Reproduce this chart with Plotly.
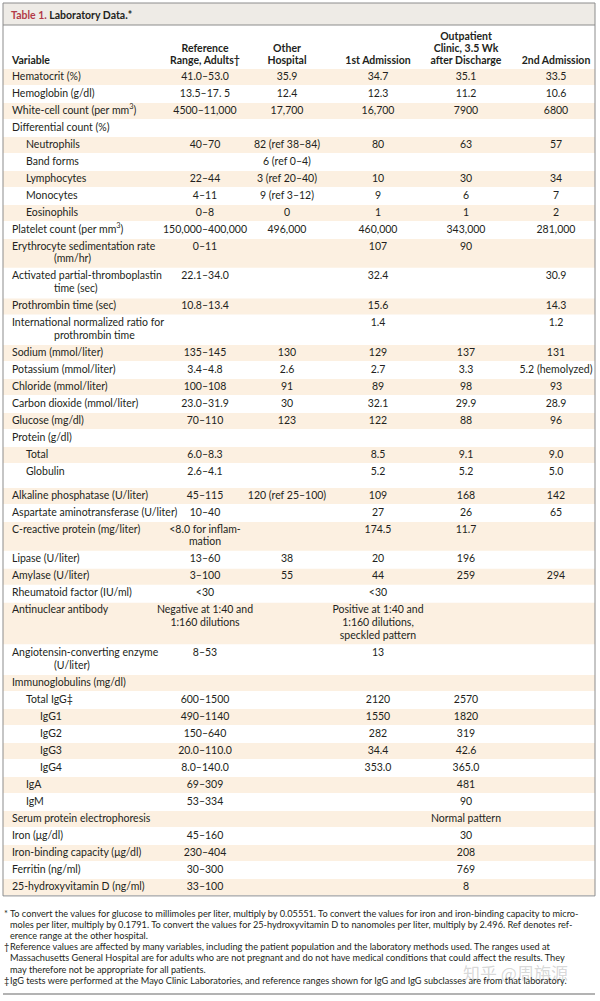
import plotly.graph_objects as go

# ---------------- data ----------------
variables = [
    "Hematocrit (%)", "Hemoglobin (g/dl)", "White-cell count (per mm<sup>3</sup>)",
    "Differential count (%)", "Neutrophils", "Band forms", "Lymphocytes", "Monocytes",
    "Eosinophils", "Platelet count (per mm<sup>3</sup>)",
    "Erythrocyte sedimentation rate\n(mm/hr)", "Activated partial-thromboplastin\ntime (sec)",
    "Prothrombin time (sec)", "International normalized ratio for\nprothrombin time",
    "Sodium (mmol/liter)", "Potassium (mmol/liter)", "Chloride (mmol/liter)",
    "Carbon dioxide (mmol/liter)", "Glucose (mg/dl)", "Protein (g/dl)", "Total", "Globulin",
    "Alkaline phosphatase (U/liter)", "Aspartate aminotransferase (U/liter)",
    "C-reactive protein (mg/liter)", "Lipase (U/liter)", "Amylase (U/liter)",
    "Rheumatoid factor (IU/ml)", "Antinuclear antibody",
    "Angiotensin-converting enzyme\n(U/liter)", "Immunoglobulins (mg/dl)", "Total IgG‡",
    "IgG1", "IgG2", "IgG3", "IgG4", "IgA", "IgM", "Serum protein electrophoresis",
    "Iron (μg/dl)", "Iron-binding capacity (μg/dl)", "Ferritin (ng/ml)",
    "25-hydroxyvitamin D (ng/ml)",
]
indent_level = [0, 0, 0, 0, 1, 1, 1, 1, 1, 0, 0, 0, 0, 0, 0, 0, 0, 0, 0, 0, 1, 1,
                0, 0, 0, 0, 0, 0, 0, 0, 0, 1, 2, 2, 2, 2, 1, 1, 0, 0, 0, 0, 0]

reference_range = [
    "41.0–53.0", "13.5–17. 5", "4500–11,000", "", "40–70", "", "22–44", "4–11", "0–8",
    "150,000–400,000", "0–11", "22.1–34.0", "10.8–13.4", "", "135–145", "3.4–4.8",
    "100–108", "23.0–31.9", "70–110", "", "6.0–8.3", "2.6–4.1", "45–115", "10–40",
    "<8.0 for inflam-\nmation", "13–60", "3–100", "<30",
    "Negative at 1:40 and\n1:160 dilutions", "8–53", "", "600–1500", "490–1140",
    "150–640", "20.0–110.0", "8.0–140.0", "69–309", "53–334", "", "45–160", "230–404",
    "30–300", "33–100",
]
other_hospital = [
    "35.9", "12.4", "17,700", "", "82 (ref 38–84)", "6 (ref 0–4)", "3 (ref 20–40)",
    "9 (ref 3–12)", "0", "496,000", "", "", "", "", "130", "2.6", "91", "30", "123", "",
    "", "", "120 (ref 25–100)", "", "", "38", "55", "", "", "", "", "", "", "", "", "",
    "", "", "", "", "", "", "",
]
first_admission = [
    "34.7", "12.3", "16,700", "", "80", "", "10", "9", "1", "460,000", "107", "32.4",
    "15.6", "1.4", "129", "2.7", "89", "32.1", "122", "", "8.5", "5.2", "109", "27",
    "174.5", "20", "44", "<30",
    "Positive at 1:40 and\n1:160 dilutions,\nspeckled pattern", "13", "", "2120", "1550",
    "282", "34.4", "353.0", "", "", "", "", "", "", "",
]
outpatient = [
    "35.1", "11.2", "7900", "", "63", "", "30", "6", "1", "343,000", "90", "", "", "",
    "137", "3.3", "98", "29.9", "88", "", "9.1", "5.2", "168", "26", "11.7", "196", "259",
    "", "", "", "", "2570", "1820", "319", "42.6", "365.0", "481", "90", "Normal pattern",
    "30", "208", "769", "8",
]
second_admission = [
    "33.5", "10.6", "6800", "", "57", "", "34", "7", "2", "281,000", "", "30.9", "14.3",
    "1.2", "131", "5.2 (hemolyzed)", "93", "28.9", "96", "", "9.0", "5.0", "142", "65",
    "", "", "294", "", "", "", "", "", "", "", "", "", "", "", "", "", "", "", "",
]

headers = ["Variable", "Reference\nRange, Adults†", "Other\nHospital", "1st Admission",
           "Outpatient\nClinic, 3.5 Wk\nafter Discharge", "2nd Admission"]

footnotes = [
    ("*", ["To convert the values for glucose to millimoles per liter, multiply by 0.05551. To convert the values for iron and iron-binding capacity to micro-",
           "moles per liter, multiply by 0.1791. To convert the values for 25-hydroxyvitamin D to nanomoles per liter, multiply by 2.496. Ref denotes ref-",
           "erence range at the other hospital."]),
    ("†", ["Reference values are affected by many variables, including the patient population and the laboratory methods used. The ranges used at",
           "Massachusetts General Hospital are for adults who are not pregnant and do not have medical conditions that could affect the results. They",
           "may therefore not be appropriate for all patients."]),
    ("‡", ["IgG tests were performed at the Mayo Clinic Laboratories, and reference ranges shown for IgG and IgG subclasses are from that laboratory."]),
]

# ---------------- layout constants ----------------
W, H = 600, 1001
FONT = "Lato"
FS = 10.5
TXT = "#231f20"
BEIGE = "#fcf0e1"
TITLE_BG = "#eeebe6"
BORDER = "#8c8c8c"
LEFT, RIGHT = 3, 595
VAR_X = 12
INDENT = 14
HANG = 42
value_cols = [reference_range, other_hospital, first_admission, outpatient, second_admission]
col_x = [205, 287, 378, 466, 556]

ROW_H = 17.0
LINE = 12.7
Y0 = 68.5
GAP_AFTER = {21: 7.0}

# row geometry
rows = []
y = Y0
for i in range(len(variables)):
    cells = [variables[i]] + [c[i] for c in value_cols]
    n = max(len(c.split("\n")) for c in cells)
    h = ROW_H + (n - 1) * LINE
    rows.append((y, h, n))
    y += h + GAP_AFTER.get(i, 0)
TABLE_BOTTOM = y + 0.5


def line_y(i, k):
    top, h, n = rows[i]
    return top + h / 2 + (k - (n - 1) / 2) * LINE


fig = go.Figure()
shapes = []
shapes.append(dict(type="rect", xref="x", yref="y", x0=LEFT, x1=RIGHT, y0=3, y1=25,
                   fillcolor=TITLE_BG, line=dict(width=0), layer="below"))
for i, (top, h, n) in enumerate(rows):
    if i % 2 == 0:
        shapes.append(dict(type="rect", xref="x", yref="y", x0=LEFT, x1=RIGHT,
                           y0=top + 0.5, y1=top + h - 0.5, fillcolor=BEIGE,
                           line=dict(width=0), layer="below"))
shapes.append(dict(type="rect", xref="x", yref="y", x0=LEFT, x1=RIGHT, y0=3, y1=TABLE_BOTTOM,
                   line=dict(color=BORDER, width=1)))
shapes.append(dict(type="line", xref="x", yref="y", x0=LEFT, x1=RIGHT, y0=25, y1=25,
                   line=dict(color=BORDER, width=1)))
shapes.append(dict(type="line", xref="x", yref="y", x0=LEFT, x1=RIGHT, y0=994, y1=994,
                   line=dict(color="#9a9a9a", width=1.5)))

vx, vy, vt = [], [], []
for i, name in enumerate(variables):
    for k, part in enumerate(name.split("\n")):
        vx.append(VAR_X + indent_level[i] * INDENT + (HANG if k > 0 else 0))
        vy.append(line_y(i, k))
        vt.append(part)
fig.add_trace(go.Scatter(x=vx, y=vy, text=vt, mode="text", textposition="middle right",
                         textfont=dict(family=FONT, size=FS, color=TXT),
                         hoverinfo="skip", showlegend=False))

for col, cx in zip(value_cols, col_x):
    xs, ys, ts = [], [], []
    for i, val in enumerate(col):
        if not val:
            continue
        for k, part in enumerate(val.split("\n")):
            xs.append(cx)
            ys.append(line_y(i, k))
            ts.append(part)
    fig.add_trace(go.Scatter(x=xs, y=ys, text=ts, mode="text", textposition="middle center",
                             textfont=dict(family=FONT, size=FS, color=TXT),
                             hoverinfo="skip", showlegend=False))

hx, hy, ht, hp = [], [], [], []
for j, hdr in enumerate(headers):
    parts = hdr.split("\n")
    m = len(parts)
    for k, part in enumerate(parts):
        hx.append(VAR_X if j == 0 else col_x[j - 1])
        hy.append(61 - (m - 1 - k) * 12)
        ht.append("<b>" + part + "</b>")
        hp.append("middle right" if j == 0 else "middle center")
fig.add_trace(go.Scatter(x=hx, y=hy, text=ht, mode="text", textposition=hp,
                         textfont=dict(family=FONT, size=FS, color=TXT),
                         hoverinfo="skip", showlegend=False))

annotations = []
annotations.append(dict(xref="x", yref="y", x=VAR_X - 3, y=14.5, xanchor="left", yanchor="middle",
                        showarrow=False,
                        text="<b><span style='color:#b23a48'>Table 1.</span> Laboratory Data.*</b>",
                        font=dict(family=FONT, size=10.5, color=TXT)))
fy = 913
for sym, lines in footnotes:
    annotations.append(dict(xref="x", yref="y", x=2, y=fy, xanchor="left", yanchor="middle",
                            showarrow=False, text=sym, font=dict(family=FONT, size=9.2, color=TXT)))
    for ln in lines:
        annotations.append(dict(xref="x", yref="y", x=8, y=fy, xanchor="left", yanchor="middle",
                                showarrow=False, text=ln,
                                font=dict(family=FONT, size=9.2, color=TXT)))
        fy += 11.2
annotations.append(dict(xref="x", yref="y", x=515, y=972, xanchor="center", yanchor="middle",
                        showarrow=False, text="知乎 @周旃源",
                        font=dict(family="Noto Sans CJK SC", size=17, color="rgba(120,120,120,0.3)")))

fig.update_layout(
    width=W, height=H, autosize=False,
    margin=dict(l=0, r=0, t=0, b=0),
    paper_bgcolor="white", plot_bgcolor="white",
    xaxis=dict(range=[0, W], visible=False, fixedrange=True),
    yaxis=dict(range=[H, 0], visible=False, fixedrange=True),
    shapes=shapes, annotations=annotations,
)
fig.write_html("out.html", config={"displayModeBar": False},
               post_script="document.body.style.margin='0';document.body.style.overflow='hidden';")
